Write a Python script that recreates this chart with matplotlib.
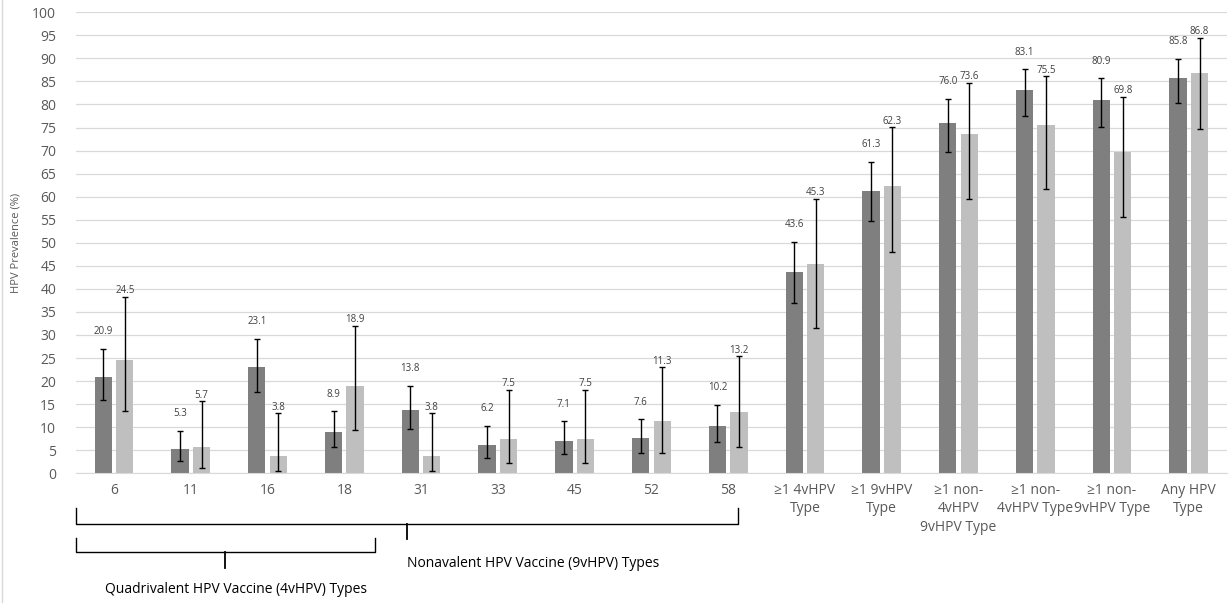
import numpy as np
import matplotlib.pyplot as plt
import matplotlib.transforms as mtransforms
from matplotlib.lines import Line2D

plt.rcParams['font.family'] = ['Open Sans', 'DejaVu Sans']

categories = ['6', '11', '16', '18', '31', '33', '45', '52', '58',
              '≥1 4vHPV\nType', '≥1 9vHPV\nType', '≥1 non-\n4vHPV\n9vHPV Type',
              '≥1 non-\n4vHPV Type', '≥1 non-\n9vHPV Type', 'Any HPV\nType']

dark_vals = [20.9, 5.3, 23.1, 8.9, 13.8, 6.2, 7.1, 7.6, 10.2, 43.6, 61.3, 76.0, 83.1, 80.9, 85.8]
dark_lo = [15.8, 2.7, 17.7, 5.6, 9.6, 3.4, 4.1, 4.5, 6.7, 37.0, 54.7, 69.8, 77.4, 75.1, 80.4]
dark_hi = [27.0, 9.2, 29.2, 13.5, 19.0, 10.3, 11.3, 11.7, 14.9, 50.2, 67.6, 81.3, 87.6, 85.7, 89.9]

light_vals = [24.5, 5.7, 3.8, 18.9, 3.8, 7.5, 7.5, 11.3, 13.2, 45.3, 62.3, 73.6, 75.5, 69.8, 86.8]
light_lo = [13.6, 1.1, 0.4, 9.4, 0.4, 2.2, 2.2, 4.3, 5.6, 31.5, 48.0, 59.5, 61.7, 55.6, 74.7]
light_hi = [38.3, 15.6, 13.0, 32.0, 13.0, 18.1, 18.1, 23.0, 25.4, 59.6, 75.1, 84.7, 86.1, 81.7, 94.5]

x = np.arange(len(categories))
w = 0.225
off = 0.14

fig = plt.figure(figsize=(12.3, 6.03), dpi=100)
ax = fig.add_axes([0.0615, 0.2151, 0.9362, 0.7645])

dv, dl, dh = np.array(dark_vals), np.array(dark_lo), np.array(dark_hi)
lv, ll, lh = np.array(light_vals), np.array(light_lo), np.array(light_hi)

ax.bar(x - off, dv, w, color='#7f7f7f', zorder=2)
ax.bar(x + off, lv, w, color='#bfbfbf', zorder=2)
ax.errorbar(x - off, dv, yerr=[dv - dl, dh - dv], fmt='none', ecolor='black',
            elinewidth=1, capsize=2, capthick=1, zorder=3)
ax.errorbar(x + off, lv, yerr=[lv - ll, lh - lv], fmt='none', ecolor='black',
            elinewidth=1, capsize=2, capthick=1, zorder=3)

for i in range(len(x)):
    ax.text(x[i] - off, dh[i] + 2.5, f'{dv[i]:.1f}', ha='center', va='bottom',
            fontsize=7, color='#404040')
    ax.text(x[i] + off, lh[i] + 0.1, f'{lv[i]:.1f}', ha='center', va='bottom',
            fontsize=7, color='#404040')

ax.set_xlim(-0.5, len(x) - 0.5)
ax.set_ylim(0, 100)
ax.set_yticks(np.arange(0, 101, 5))
ax.yaxis.grid(True, color='#d9d9d9', lw=0.9)
ax.set_axisbelow(True)
ax.set_xticks(x)
ax.set_xticklabels(categories, fontsize=10, color='#595959', linespacing=1.3, va='top')
ax.tick_params(axis='y', labelsize=10, colors='#595959', length=0, pad=14)
ax.tick_params(axis='x', length=0, pad=7)
for s in ['top', 'right', 'left']:
    ax.spines[s].set_visible(False)
ax.spines['bottom'].set_color('#d9d9d9')
ax.set_ylabel('HPV Prevalence (%)', fontsize=8, color='#595959', labelpad=8)

# group braces below the axis
trans = mtransforms.blended_transform_factory(ax.transData, ax.transAxes)

def brace(x0, x1, top, mid, bot):
    xm = (x0 + x1) / 2
    ax.add_line(Line2D([x0, x0, x1, x1], [top, mid, mid, top], color='black',
                       lw=1, transform=trans, clip_on=False))
    ax.add_line(Line2D([xm, xm], [mid, bot], color='black', lw=1.3,
                       transform=trans, clip_on=False))
    return xm

m9 = brace(-0.5, 8.125, -0.075, -0.110, -0.142)
m4 = brace(-0.5, 3.4, -0.140, -0.171, -0.205)
ax.text(m9, -0.195, 'Nonavalent HPV Vaccine (9vHPV) Types', transform=trans,
        ha='left', va='center', fontsize=10, color='black')
ax.text(m4 + 0.14, -0.253, 'Quadrivalent HPV Vaccine (4vHPV) Types', transform=trans,
        ha='center', va='center', fontsize=10, color='black')

# chart frame edge on the left
fig.add_artist(Line2D([0.002, 0.002], [0, 1], color='#d9d9d9', lw=1,
                      transform=fig.transFigure))

fig.savefig('out.png', dpi=100)
